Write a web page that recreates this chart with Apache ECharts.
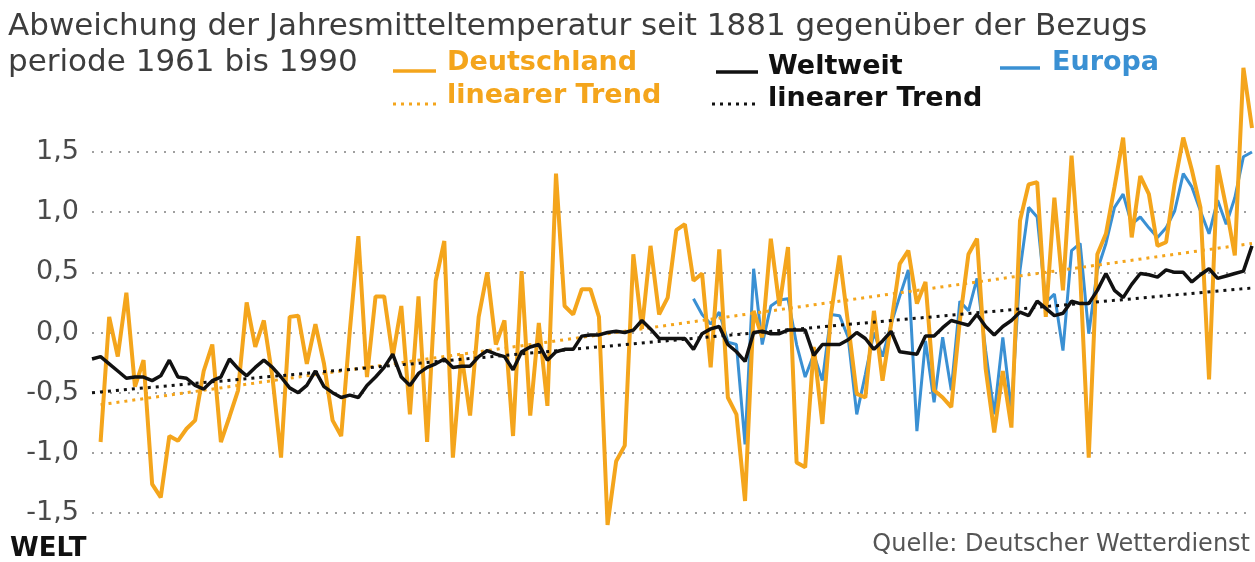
<!DOCTYPE html>
<html>
<head>
<meta charset="utf-8">
<script src="https://cdn.jsdelivr.net/npm/echarts@6/dist/echarts.min.js"></script>
<style>
  html, body { margin: 0; padding: 0; background: #fff; }
  #chart { width: 1255px; height: 562px; }
</style>
</head>
<body>
<div id="chart"></div>
<script>
// Abweichung vom Mittel 1961-1990 in °C
const startWorld = 1880
const startGermany = 1881
const startEurope = 1950

const world = [
  -0.22, -0.20, -0.26, -0.32, -0.38, -0.37, -0.37, -0.40, -0.36, -0.23,
  -0.37, -0.38, -0.44, -0.47, -0.40, -0.37, -0.22, -0.30, -0.36, -0.29,
  -0.23, -0.29, -0.37, -0.46, -0.50, -0.44, -0.32, -0.45, -0.50, -0.54,
  -0.52, -0.54, -0.44, -0.37, -0.29, -0.18, -0.37, -0.44, -0.34, -0.29,
  -0.26, -0.22, -0.29, -0.28, -0.28, -0.20, -0.15, -0.18, -0.20, -0.31,
  -0.16, -0.12, -0.10, -0.23, -0.16, -0.14, -0.14, -0.03, -0.02, -0.02,
  0.00, 0.01, 0.00, 0.02, 0.10, 0.03, -0.05, -0.05, -0.05, -0.05,
  -0.14, -0.01, 0.03, 0.05, -0.10, -0.16, -0.24, 0.00, 0.01, -0.01,
  -0.01, 0.02, 0.02, 0.02, -0.19, -0.10, -0.10, -0.10, -0.06, 0.00,
  -0.05, -0.14, -0.07, 0.01, -0.16, -0.17, -0.18, -0.03, -0.03, 0.04,
  0.10, 0.08, 0.06, 0.15, 0.05, -0.02, 0.05, 0.10, 0.17, 0.14,
  0.26, 0.20, 0.14, 0.16, 0.26, 0.24, 0.24, 0.35, 0.49, 0.35,
  0.29, 0.40, 0.49, 0.48, 0.46, 0.52, 0.50, 0.50, 0.42, 0.48,
  0.53, 0.45, 0.47, 0.49, 0.51, 0.72
]

const germany = [
  -0.91, 0.13, -0.20, 0.33, -0.45, -0.23, -1.26, -1.37, -0.86,
  -0.90, -0.80, -0.73, -0.32, -0.10, -0.91, -0.70, -0.48, 0.25, -0.12,
  0.10, -0.37, -1.04, 0.13, 0.14, -0.26, 0.07, -0.26, -0.73, -0.86,
  0.01, 0.80, -0.37, 0.30, 0.30, -0.20, 0.22, -0.68, 0.30, -0.91,
  0.43, 0.76, -1.04, -0.18, -0.69, 0.13, 0.50, -0.10, 0.10, -0.86,
  0.51, -0.69, 0.08, -0.61, 1.32, 0.22, 0.15, 0.36, 0.36, 0.13,
  -1.60, -1.07, -0.94, 0.65, 0.03, 0.72, 0.15, 0.29, 0.85, 0.90,
  0.43, 0.49, -0.29, 0.69, -0.54, -0.68, -1.40, 0.18, -0.04, 0.78,
  0.22, 0.71, -1.08, -1.12, -0.12, -0.76, 0.15, 0.64, 0.07, -0.51,
  -0.54, 0.18, -0.40, 0.07, 0.57, 0.68, 0.24, 0.42, -0.48, -0.54,
  -0.62, 0.10, 0.65, 0.78, -0.30, -0.83, -0.32, -0.79, 0.93, 1.23,
  1.25, 0.13, 1.12, 0.35, 1.47, 0.49, -1.04, 0.65, 0.82, 1.21,
  1.62, 0.79, 1.30, 1.15, 0.72, 0.75, 1.24, 1.62, 1.35, 1.04,
  -0.39, 1.39, 1.04, 0.64, 2.20, 1.70
]

const europe = [
  0.28, 0.15, 0.07, 0.17, -0.08, -0.10, -0.93, 0.53, -0.10, 0.22,
  0.27, 0.28, -0.10, -0.37, -0.18, -0.40, 0.15, 0.14, -0.04, -0.68,
  -0.35, 0.00, -0.20, 0.07, 0.30, 0.52, -0.82, -0.07, -0.58, -0.04,
  -0.48, 0.26, 0.18, 0.45, -0.15, -0.68, -0.04, -0.65, 0.52, 1.04,
  0.96, 0.25, 0.32, -0.15, 0.68, 0.74, -0.01, 0.52, 0.74, 1.04,
  1.15, 0.90, 0.96, 0.87, 0.79, 0.87, 1.01, 1.32, 1.21, 1.01,
  0.82, 1.10, 0.90, 1.12, 1.46, 1.50
]

// lineare Trends: Anfangs- und Endpunkt
const trendGermany = [[1881, -0.60], [2015, 0.74]]
const trendWorld = [[1880, -0.50], [2015, 0.37]]

const yTicks = [-1.5, -1.0, -0.5, 0.0, 0.5, 1.0, 1.5]

const toPairs = (start, arr) => arr.map((v, i) => [start + i, v])

const ORANGE = '#f4a51c'
const BLUE = '#3a90d3'
const BLACK = '#111111'
const FONT = '"DejaVu Sans", sans-serif'

const chart = echarts.init(document.getElementById('chart'))

const legendFont = 'bold 27px ' + FONT

const option = {
  backgroundColor: '#ffffff',
  animation: false,
  grid: { left: 92, right: 3, top: 152, bottom: 49 },
  xAxis: {
    type: 'value',
    min: 1880,
    max: 2015,
    show: false,
  },
  yAxis: {
    type: 'value',
    min: yTicks[0],
    max: yTicks[yTicks.length - 1],
    interval: 0.5,
    axisLine: { show: false },
    axisTick: { show: false },
    axisLabel: {
      margin: 13,
      color: '#4a4a4a',
      fontSize: 27,
      fontFamily: FONT,
      formatter: (v) => v.toFixed(1).replace('.', ','),
    },
    splitLine: {
      lineStyle: { color: '#a0a0a0', width: 2, type: [2, 7] },
    },
  },
  series: [
    {
      name: 'Europa',
      type: 'line',
      data: toPairs(startEurope, europe),
      symbol: 'none',
      clip: false,
      lineStyle: { color: BLUE, width: 3 },
    },
    {
      name: 'Deutschland',
      type: 'line',
      data: toPairs(startGermany, germany),
      symbol: 'none',
      clip: false,
      lineStyle: { color: ORANGE, width: 4 },
    },
    {
      name: 'Trend Deutschland',
      type: 'line',
      data: trendGermany,
      symbol: 'none',
      clip: false,
      lineStyle: { color: ORANGE, width: 3, type: [3, 5] },
    },
    {
      name: 'Trend Weltweit',
      type: 'line',
      data: trendWorld,
      symbol: 'none',
      clip: false,
      lineStyle: { color: BLACK, width: 3, type: [3, 5] },
    },
    {
      name: 'Weltweit',
      type: 'line',
      data: toPairs(startWorld, world),
      symbol: 'none',
      clip: false,
      lineStyle: { color: BLACK, width: 3.5 },
    },
  ],
  graphic: [
    {
      type: 'text', left: 8, top: 11,
      style: {
        text: 'Abweichung der Jahresmitteltemperatur seit 1881 gegenüber der Bezugs',
        font: '31px ' + FONT, fill: '#3d3d3d',
      },
    },
    {
      type: 'text', left: 8, top: 47,
      style: {
        text: 'periode 1961 bis 1990',
        font: '31px ' + FONT, fill: '#3d3d3d',
      },
    },
    // Legende
    { type: 'line', shape: { x1: 393, y1: 71, x2: 436, y2: 71 }, style: { stroke: ORANGE, lineWidth: 3.5 } },
    { type: 'text', left: 447, top: 49, style: { text: 'Deutschland', font: legendFont, fill: ORANGE } },
    { type: 'line', shape: { x1: 393, y1: 104, x2: 437, y2: 104 }, style: { stroke: ORANGE, lineWidth: 3, lineDash: [3, 5] } },
    { type: 'text', left: 447, top: 82, style: { text: 'linearer Trend', font: legendFont, fill: ORANGE } },
    { type: 'line', shape: { x1: 716, y1: 72, x2: 758, y2: 72 }, style: { stroke: BLACK, lineWidth: 3.5 } },
    { type: 'text', left: 768, top: 53, style: { text: 'Weltweit', font: legendFont, fill: BLACK } },
    { type: 'line', shape: { x1: 712, y1: 104, x2: 760, y2: 104 }, style: { stroke: BLACK, lineWidth: 3, lineDash: [3, 5] } },
    { type: 'text', left: 768, top: 85, style: { text: 'linearer Trend', font: legendFont, fill: BLACK } },
    { type: 'line', shape: { x1: 1000, y1: 68, x2: 1040, y2: 68 }, style: { stroke: BLUE, lineWidth: 3.5 } },
    { type: 'text', left: 1052, top: 49, style: { text: 'Europa', font: legendFont, fill: BLUE } },
    // Fuß
    {
      type: 'text', left: 10, top: 536,
      style: { text: 'WELT', font: '900 26px ' + FONT, fill: '#111' },
    },
    {
      type: 'text', right: 5, top: 533,
      style: { text: 'Quelle: Deutscher Wetterdienst', font: '24px ' + FONT, fill: '#555' },
    },
  ],
}

chart.setOption(option)
</script>
</body>
</html>
